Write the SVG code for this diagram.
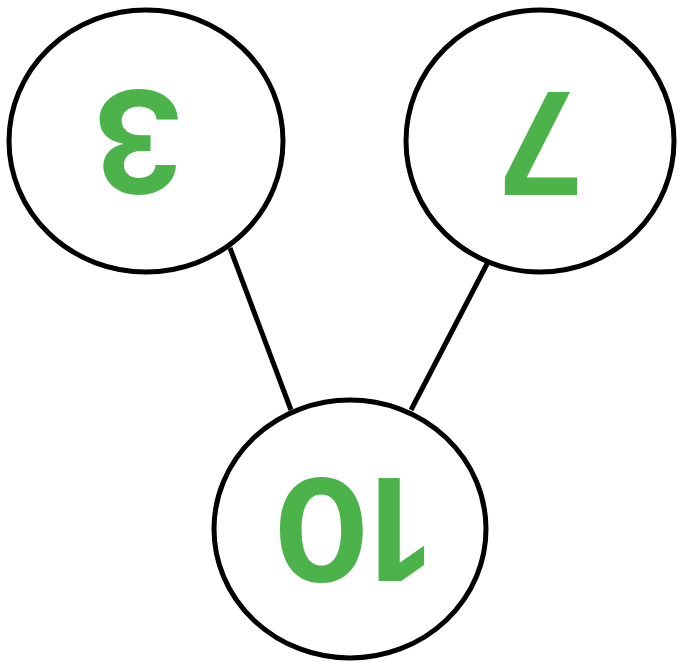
<svg xmlns="http://www.w3.org/2000/svg" width="679" height="663" viewBox="0 0 679 663">
<style>
.node{fill:#fff;stroke:#000;stroke-width:5}
.edge{stroke:#000;stroke-width:5;fill:none}
.lbl{font-family:Inter,"Liberation Sans",Arial,sans-serif;font-weight:bold;font-size:142px;fill:#4cb24a;text-anchor:middle}
</style>
<rect width="679" height="663" fill="#fff"/>
<g id="connectors">
<line class="edge" x1="230" y1="248" x2="291" y2="410"/>
<line class="edge" x1="488" y1="262" x2="411" y2="410"/>
</g>
<g id="node-3">
<ellipse class="node" cx="146" cy="141" rx="137" ry="131"/>
<text class="lbl" x="139" y="193" transform="rotate(180 139 141.5)">3</text>
</g>
<g id="node-7">
<ellipse class="node" cx="540" cy="141" rx="134" ry="131"/>
<text class="lbl" x="541" y="193" transform="rotate(180 541 142.5)">7</text>
</g>
<g id="node-10">
<ellipse class="node" cx="350" cy="529" rx="136" ry="129"/>
<text class="lbl" x="352" y="583" transform="rotate(180 352 530.5)">10</text>
</g>
</svg>
